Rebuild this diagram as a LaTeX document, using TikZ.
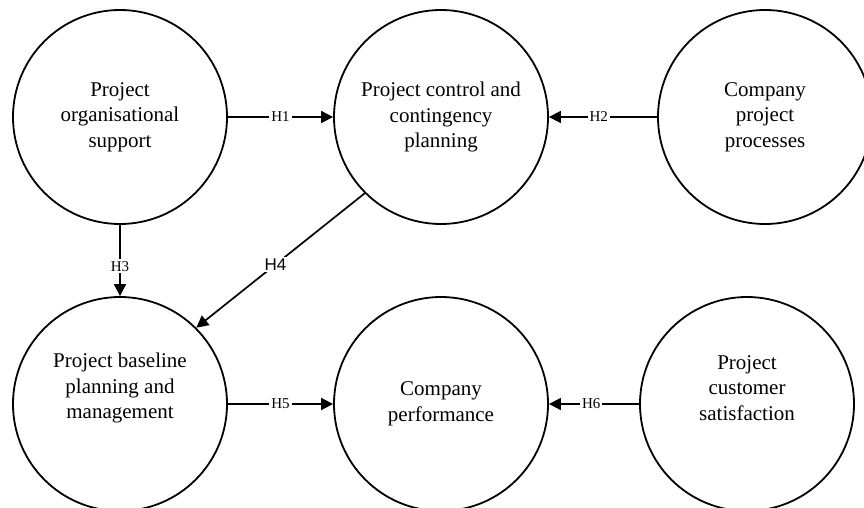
\documentclass[tikz,border=0pt]{standalone}
\usepackage{fontspec}
\setmainfont{Liberation Serif}
\newfontfamily\hsans{Liberation Sans}
\usetikzlibrary{arrows.meta}
\begin{document}
\begin{tikzpicture}[x=1pt,y=-1pt,
  circ/.style={circle,draw,line width=1.8pt,minimum size=214pt,inner sep=0pt,align=center,font=\fontsize{21}{25.5}\selectfont},
  txt/.style={align=center,inner sep=0pt,font=\fontsize{21}{25.5}\selectfont},
  conn/.style={line width=1.7pt,-{Triangle[length=12pt,width=12pt]}},
  hlab/.style={fill=white,inner sep=2pt,font=\fontsize{15}{17}\selectfont},
  hsanslab/.style={fill=white,inner sep=2pt,font=\hsans\fontsize{17}{19}\selectfont},
]
\useasboundingbox (0,0) rectangle (864,508);
\node[circ] (pos) at (120,117) {Project\\organisational\\support};
\node[circ] (pcc) at (441,117) {Project control and\\contingency\\planning};
\node[circ] (cpp) at (765,117) {Company\\project\\processes};
\node[circ] (pbm) at (120,404) {};
\node[txt] (pbmt) at (120,388) {Project baseline\\planning and\\management};
\node[circ] (cp) at (441,404) {Company\\performance};
\node[circ] (pcs) at (747,404) {};
\node[txt] (pcst) at (747,388) {Project\\customer\\satisfaction};
\draw[conn] (pos) -- node[hlab]{H1} (pcc);
\draw[conn] (cpp) -- node[hlab,pos=0.54]{H2} (pcc);
\draw[conn] (pos) -- node[hlab,pos=0.58]{H3} (pbm);
\draw[conn] (pcc.225) -- node[hsanslab,pos=0.53]{H4} (pbm.45);
\draw[conn] (pbm) -- node[hlab]{H5} (cp);
\draw[conn] (pcs) -- node[hlab,pos=0.53]{H6} (cp);
\end{tikzpicture}
\end{document}
